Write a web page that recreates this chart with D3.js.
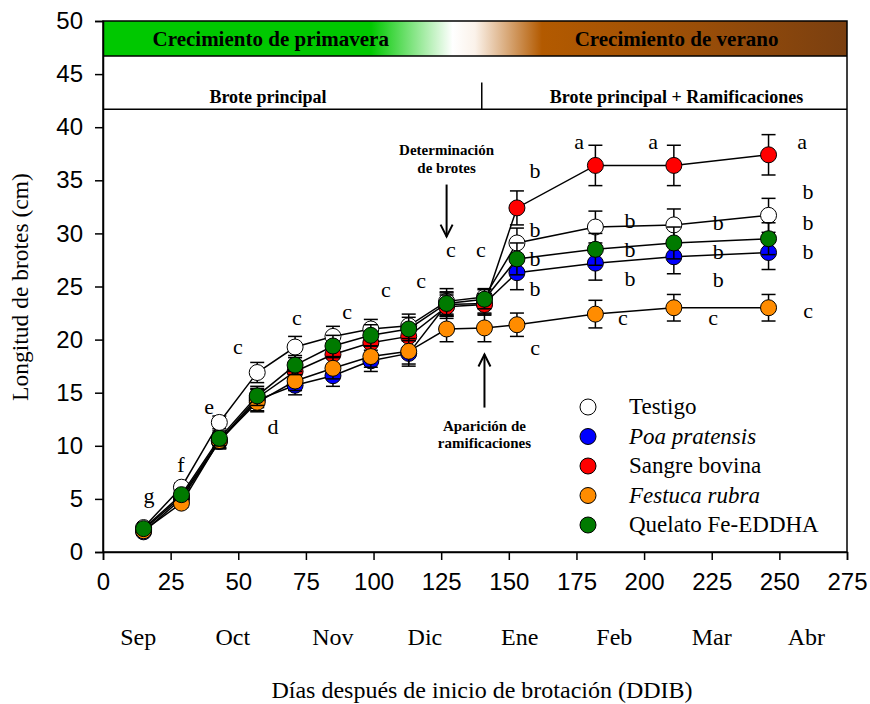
<!DOCTYPE html>
<html>
<head>
<meta charset="utf-8">
<script src="https://cdn.jsdelivr.net/npm/d3@7"></script>
<style>
  body { margin: 0; background: #fff; }
  svg { display: block; }
  .serif { font-family: "Liberation Serif", "Times New Roman", Times, "DejaVu Serif", serif; }
  .sans { font-family: "Liberation Sans", Arial, sans-serif; }
</style>
</head>
<body>
<svg id="chart" width="870" height="704"></svg>
<script>
// Días después de inicio de brotación (DDIB)
const days = [15, 29, 43, 57, 71, 85, 99, 113, 127, 141, 153, 182, 211, 246];

// Longitud media de brotes (cm) por tratamiento
const testigo = [2.3, 6.1, 12.2, 16.9, 19.3, 20.3, 21.0, 21.3, 23.6, 24.0, 29.1, 30.6, 30.8, 31.7];
const poa     = [1.9, 5.0, 10.4, 14.3, 15.7, 16.6, 18.0, 18.7, 23.3, 23.4, 26.3, 27.2, 27.8, 28.2];
const sangre  = [2.1, 5.2, 10.5, 14.5, 17.0, 18.6, 19.7, 20.3, 23.1, 23.3, 32.4, 36.4, 36.4, 37.4];
const festuca = [2.0, 4.6, 10.5, 14.1, 16.1, 17.3, 18.4, 18.9, 21.0, 21.1, 21.4, 22.4, 23.0, 23.0];
const quelato = [2.2, 5.4, 10.7, 14.7, 17.6, 19.4, 20.4, 21.0, 23.4, 23.8, 27.6, 28.5, 29.1, 29.5];

// Error estándar
const seTestigo = [0.3, 0.4, 0.6, 0.95, 1.0, 0.95, 0.9, 1.1, 1.2, 0.8, 1.4, 1.5, 1.5, 1.6];
const sePoa     = [0.3, 0.4, 0.7, 1.0, 0.9, 1.0, 1.0, 1.2, 1.1, 0.9, 1.6, 1.6, 1.6, 1.6];
const seSangre  = [0.3, 0.4, 0.7, 0.9, 0.9, 1.0, 1.0, 1.1, 1.1, 1.0, 1.6, 1.9, 1.9, 1.9];
const seFestuca = [0.3, 0.4, 0.7, 0.9, 0.9, 1.0, 1.0, 1.2, 1.2, 1.3, 1.1, 1.3, 1.25, 1.25];
const seQuelato = [0.3, 0.4, 0.7, 0.9, 0.9, 1.0, 1.0, 1.1, 1.1, 0.9, 1.5, 1.5, 1.5, 1.5];

const seriesNames  = ["Testigo", "Poa pratensis", "Sangre bovina", "Festuca rubra", "Quelato Fe-EDDHA"];
const seriesItalic = [false, true, false, true, false];
const seriesColors = ["#ffffff", "#0000ff", "#ff0000", "#ff8c00", "#007a00"];

// Eje X
const xTicks = [0, 25, 50, 75, 100, 125, 150, 175, 200, 225, 250, 275];
const yTicks = [0, 5, 10, 15, 20, 25, 30, 35, 40, 45, 50];
const months    = ["Sep", "Oct", "Nov", "Dic", "Ene", "Feb", "Mar", "Abr"];
const monthDays = [13, 48, 85, 119, 154, 189, 225, 260];

// Letras de comparación de medias (día, cm, letra)
const letterDays = [17, 28.8, 39.2, 49.9, 62.8, 71.7, 90.2, 104.6, 117.6, 128.6, 139.7,
  159.7, 159.7, 159.7, 159.7, 159.7,
  176, 194.8, 194.8, 194.8, 192.2,
  203.3, 227.4, 227.4, 227.4, 225.5,
  258.4, 260.6, 260.6, 260.6, 260.6];
const letterVals = [5.2, 8.1, 13.6, 19.2, 11.7, 21.9, 22.5, 24.6, 25.4, 28.3, 28.3,
  35.8, 30.2, 27.5, 24.7, 19.1,
  38.5, 31.1, 28.3, 25.6, 21.9,
  38.5, 30.9, 28.2, 25.5, 21.9,
  38.5, 33.8, 30.9, 28.2, 22.6];
const letterText = ["g", "f", "e", "c", "d", "c", "c", "c", "c", "c", "c",
  "b", "b", "b", "b", "c",
  "a", "b", "b", "b", "c",
  "a", "b", "b", "b", "c",
  "a", "b", "b", "b", "c"];

const svg = d3.select("#chart");

const x = d3.scaleLinear().domain([0, 275]).range([103, 847]);
const y = d3.scaleLinear().domain([0, 50]).range([552, 21]);

// Franja superior con degradado de estación
const defs = svg.append("defs");
const grad = defs.append("linearGradient").attr("id", "estacion")
  .attr("x1", "0%").attr("x2", "100%").attr("y1", "0%").attr("y2", "0%");
[[0, "#00c800"], [0.36, "#00c800"], [0.47, "#ffffff"], [0.5, "#fbf2ea"],
 [0.59, "#b35a00"], [0.8, "#9a4e08"], [1, "#7a3f10"]].forEach(([o, c]) => {
  grad.append("stop").attr("offset", o).attr("stop-color", c);
});

svg.append("rect")
  .attr("x", x(0)).attr("y", y(50))
  .attr("width", x(275) - x(0)).attr("height", y(46.7) - y(50))
  .attr("fill", "url(#estacion)");
svg.append("line").attr("x1", x(0)).attr("x2", x(275)).attr("y1", y(46.7)).attr("y2", y(46.7))
  .attr("stroke", "#000").attr("stroke-width", 1.5);
svg.append("line").attr("x1", x(0)).attr("x2", x(275)).attr("y1", y(41.7)).attr("y2", y(41.7))
  .attr("stroke", "#000").attr("stroke-width", 1.5);
svg.append("line").attr("x1", x(140)).attr("x2", x(140)).attr("y1", y(44.2)).attr("y2", y(41.7))
  .attr("stroke", "#000").attr("stroke-width", 1.5);

function label(xp, yp, txt, size, bold) {
  return svg.append("text").attr("class", "serif")
    .attr("x", xp).attr("y", yp).attr("text-anchor", "middle")
    .attr("font-size", size).attr("font-weight", bold ? "bold" : "normal")
    .text(txt);
}
label(x(62), y(48.35) + 7, "Crecimiento de primavera", 21, true);
label(x(212), y(48.35) + 7, "Crecimiento de verano", 21, true);
label(x(61), y(42.8) + 6, "Brote principal", 18, true);
label(x(212), y(42.8) + 6, "Brote principal + Ramificaciones", 18, true);

// Marco
svg.append("rect")
  .attr("x", x(0)).attr("y", y(50))
  .attr("width", x(275) - x(0)).attr("height", y(0) - y(50))
  .attr("fill", "none").attr("stroke", "#000").attr("stroke-width", 1.5);

// Ejes
const yAxis = svg.append("g").attr("transform", `translate(${x(0)},0)`)
  .call(d3.axisLeft(y).tickValues(yTicks).tickSize(8).tickPadding(12));
const xAxis = svg.append("g").attr("transform", `translate(0,${y(0)})`)
  .call(d3.axisBottom(x).tickValues(xTicks).tickSize(8).tickPadding(13));
[xAxis, yAxis].forEach(a => {
  a.attr("font-family", null).attr("font-size", null);
  a.select(".domain").attr("stroke-width", 1.5);
  a.selectAll(".tick line").attr("stroke-width", 1.5);
  a.selectAll("text").attr("class", "sans").attr("font-size", 24).attr("fill", "#000");
});

// Meses
svg.append("g").selectAll("text").data(months).join("text")
  .attr("class", "serif")
  .attr("x", (d, i) => x(monthDays[i])).attr("y", 645)
  .attr("text-anchor", "middle").attr("font-size", 24)
  .text(d => d);

// Títulos de ejes
label(482, 698, "Días después de inicio de brotación (DDIB)", 24, false);
svg.append("text").attr("class", "serif")
  .attr("transform", "translate(28,287) rotate(-90)")
  .attr("text-anchor", "middle").attr("font-size", 23.5)
  .text("Longitud de brotes (cm)");

// Series
const seriesVals = [testigo, poa, sangre, festuca, quelato];
const seriesSE = [seTestigo, sePoa, seSangre, seFestuca, seQuelato];
const line = d3.line().x(d => x(d[0])).y(d => y(d[1]));

seriesVals.forEach((vals, s) => {
  const pts = days.map((d, i) => [d, vals[i], seriesSE[s][i]]);
  const g = svg.append("g");
  g.append("path").datum(pts).attr("d", line)
    .attr("fill", "none").attr("stroke", "#000").attr("stroke-width", 1.5);
  const eb = g.selectAll("g.eb").data(pts).join("g");
  eb.append("line").attr("x1", d => x(d[0])).attr("x2", d => x(d[0]))
    .attr("y1", d => y(d[1] - d[2])).attr("y2", d => y(d[1] + d[2]))
    .attr("stroke", "#000").attr("stroke-width", 1.5);
  [-1, 1].forEach(sign => {
    eb.append("line").attr("x1", d => x(d[0]) - 7).attr("x2", d => x(d[0]) + 7)
      .attr("y1", d => y(d[1] + sign * d[2])).attr("y2", d => y(d[1] + sign * d[2]))
      .attr("stroke", "#000").attr("stroke-width", 1.5);
  });
  g.selectAll("circle").data(pts).join("circle")
    .attr("cx", d => x(d[0])).attr("cy", d => y(d[1])).attr("r", 8)
    .attr("fill", seriesColors[s]).attr("stroke", "#000").attr("stroke-width", 1);
});

// Letras
svg.append("g").selectAll("text").data(letterText).join("text")
  .attr("class", "serif")
  .attr("x", (d, i) => x(letterDays[i])).attr("y", (d, i) => y(letterVals[i]) + 6)
  .attr("text-anchor", "middle").attr("font-size", 22)
  .text(d => d);

// Anotaciones con flecha
function arrow(xd, y1, y2) {
  const px = x(xd);
  const dir = y2 > y1 ? 1 : -1;
  svg.append("line").attr("x1", px).attr("x2", px).attr("y1", y1).attr("y2", y2)
    .attr("stroke", "#000").attr("stroke-width", 2);
  svg.append("path")
    .attr("d", `M${px - 6},${y2 - dir * 12} L${px},${y2} L${px + 6},${y2 - dir * 12}`)
    .attr("fill", "none").attr("stroke", "#000").attr("stroke-width", 2);
}
arrow(127, y(34.6), y(29.7));
arrow(141, y(13.6), y(18.6));

label(x(127), 155, "Determinación", 15, true);
label(x(127), 173, "de brotes", 15, true);
label(x(141), 431, "Aparición de", 15, true);
label(x(141), 448, "ramificaciones", 15, true);

// Leyenda
const legend = svg.append("g").attr("transform", "translate(588,407)");
const li = legend.selectAll("g").data(seriesNames).join("g")
  .attr("transform", (d, i) => `translate(0,${i * 29.5})`);
li.append("circle").attr("r", 8)
  .attr("fill", (d, i) => seriesColors[i]).attr("stroke", "#000").attr("stroke-width", 1);
li.append("text").attr("class", "serif").attr("x", 41).attr("y", 7)
  .attr("font-size", 23)
  .attr("font-style", (d, i) => seriesItalic[i] ? "italic" : "normal")
  .text(d => d);
</script>
</body>
</html>
